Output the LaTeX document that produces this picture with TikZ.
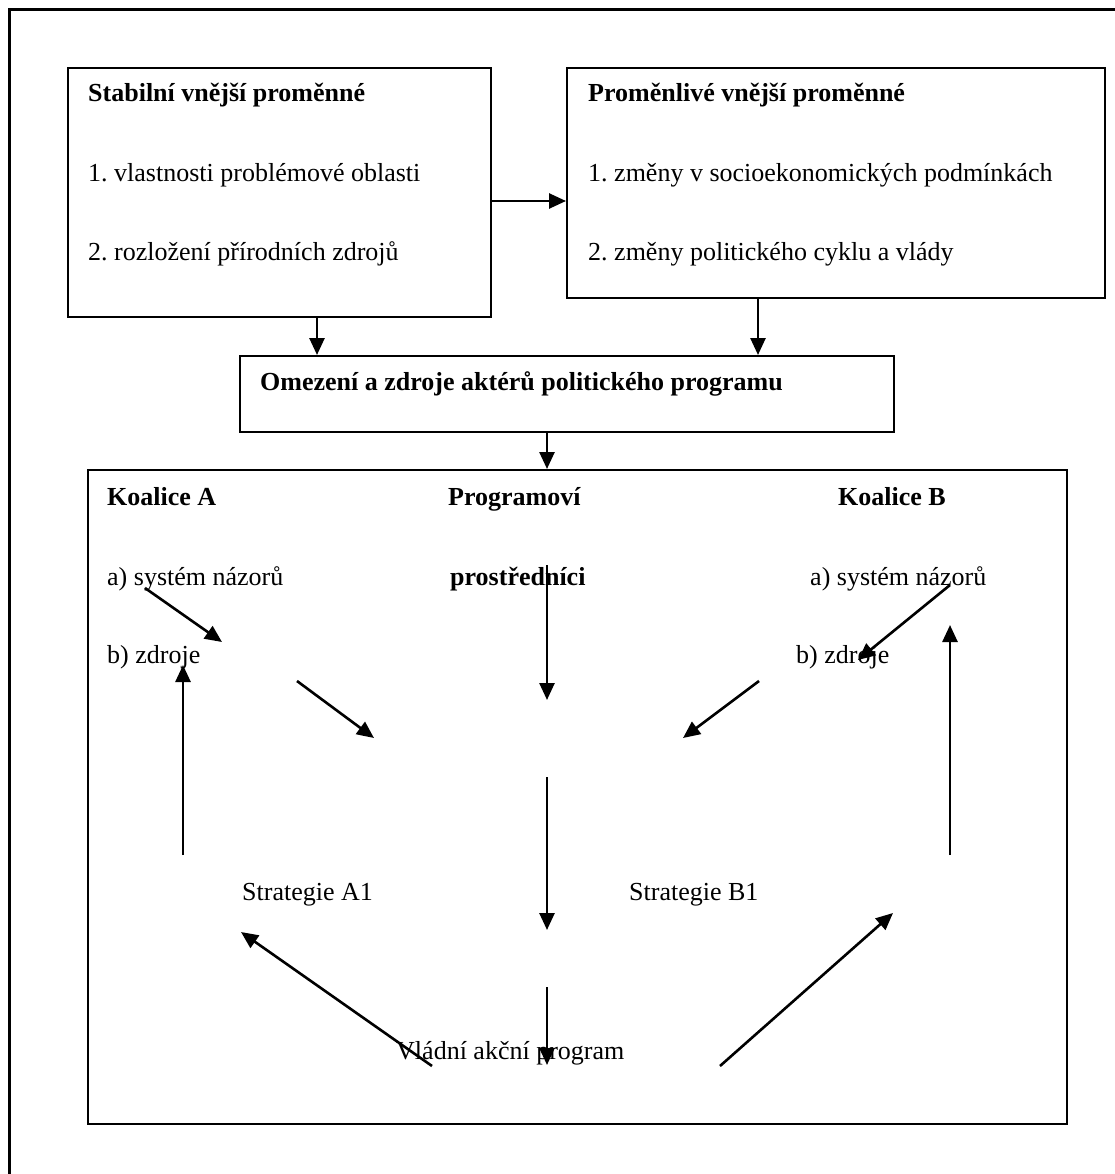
\documentclass[tikz,border=0pt]{standalone}
\usepackage{fontspec}
\setmainfont{Liberation Serif}
\usetikzlibrary{arrows.meta}
\frenchspacing
\begin{document}
\begin{tikzpicture}[x=1pt,y=-1pt,
  boxshape/.style={draw, line width=2.4pt, inner sep=0pt, anchor=north west},
  txt/.style={inner sep=0pt, anchor=base west, font=\fontsize{26}{31}\selectfont\frenchspacing},
  btxt/.style={txt, font=\fontsize{26}{31}\selectfont\bfseries},
  arr/.style={line width=2.6pt, -{Triangle[length=17pt,width=15pt]}},
  plainline/.style={line width=2.4pt}
]
\useasboundingbox (0,0) rectangle (1114,1174);
% outer frame (cut off at right and bottom)
\coordinate (oTL) at (9.5,9.5);
\coordinate (oBL) at (9.5,1190);
\coordinate (oTR) at (1130,9.5);
\draw[plainline] (oBL) -- (oTL) -- (oTR);

% boxes
\node[boxshape, minimum width=423pt, minimum height=249pt] (b1) at (67,67) {};
\node[boxshape, minimum width=538pt, minimum height=230pt] (b2) at (566,67) {};
\node[boxshape, minimum width=654pt, minimum height=76pt] (b3) at (239,355) {};
\node[boxshape, minimum width=979pt, minimum height=654pt] (b4) at (87,469) {};

% texts in top boxes
\node[btxt] (t1) at (88,102) {Stabilní vnější proměnné};
\node[txt] (t2) at (88,182) {1. vlastnosti problémové oblasti};
\node[txt] (t3) at (88,260) {2. rozložení přírodních zdrojů};
\node[btxt] (t4) at (588,102) {Proměnlivé vnější proměnné};
\node[txt] (t5) at (588,182) {1. změny v socioekonomických podmínkách};
\node[txt] (t6) at (588,260) {2. změny politického cyklu a vlády};
\node[btxt] (t7) at (260,390) {Omezení a zdroje aktérů politického programu};

% texts in big box
\node[btxt] (kA) at (107,505) {Koalice A};
\node[btxt] (pg) at (448,505) {Programoví};
\node[btxt] (kB) at (838,505) {Koalice B};
\node[txt] (aA) at (107,585) {a) systém názorů};
\node[btxt] (pr) at (450,585) {prostředníci};
\node[txt] (aB) at (810,585) {a) systém názorů};
\node[txt] (bA) at (107,663) {b) zdroje};
\node[txt] (bB) at (796,663) {b) zdroje};
\node[txt] (sA) at (242,900) {Strategie A1};
\node[txt] (sB) at (629,900) {Strategie B1};
\node[txt] (vp) at (396,1059) {Vládní akční program};

% helper coordinates
\coordinate (yArr) at (0,201);
\coordinate (x1) at (317,0);
\coordinate (x2) at (758,0);
\coordinate (xm) at (547,0);
\draw[arr] (b1.east |- yArr) -- (b2.west |- yArr);
\draw[arr] (b1.south -| x1) -- (b3.north -| x1);
\draw[arr] (b2.south -| x2) -- (b3.north -| x2);
\draw[arr] (b3.south -| xm) -- (b4.north -| xm);

% free arrows inside big box
\coordinate (aA1) at (145,588); \coordinate (aA2) at (222,642);
\coordinate (bA1) at (183,855); \coordinate (bA2) at (183,665);
\coordinate (cA1) at (297,681); \coordinate (cA2) at (374,738);
\coordinate (m1) at (547,565);  \coordinate (m2) at (547,700);
\coordinate (m3) at (547,777);  \coordinate (m4) at (547,930);
\coordinate (m5) at (547,987);  \coordinate (m6) at (547,1065);
\coordinate (aB1) at (950,585); \coordinate (aB2) at (858,660);
\coordinate (bB1) at (950,855); \coordinate (bB2) at (950,625);
\coordinate (cB1) at (759,681); \coordinate (cB2) at (683,738);
\coordinate (dA1) at (432,1066); \coordinate (dA2) at (241,932);
\coordinate (dB1) at (720,1066); \coordinate (dB2) at (893,913);

\draw[arr] (aA1) -- (aA2);
\draw[arr] (bA1) -- (bA2);
\draw[arr] (cA1) -- (cA2);
\draw[arr] (m1) -- (m2);
\draw[arr] (m3) -- (m4);
\draw[arr] (m5) -- (m6);
\draw[arr] (aB1) -- (aB2);
\draw[arr] (bB1) -- (bB2);
\draw[arr] (cB1) -- (cB2);
\draw[arr] (dA1) -- (dA2);
\draw[arr] (dB1) -- (dB2);
\end{tikzpicture}
\end{document}
